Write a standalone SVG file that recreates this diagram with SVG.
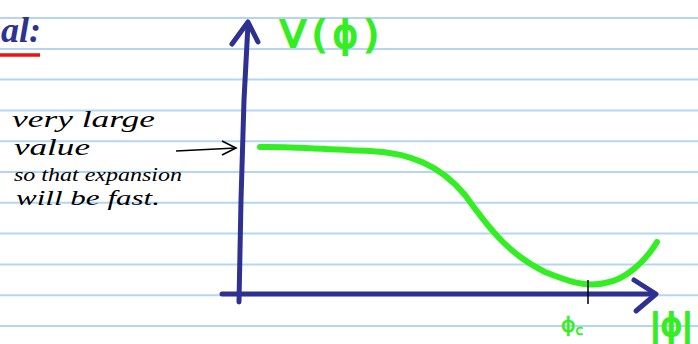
<svg xmlns="http://www.w3.org/2000/svg" width="698" height="344" viewBox="0 0 698 344">
<defs>
<style>
.rule{stroke:#b4d6f4;stroke-width:2}
.axis{stroke:#2e3192;stroke-width:5;fill:none;stroke-linecap:round;stroke-linejoin:round}
.green{fill:#33ee22;font-family:"DejaVu Sans",sans-serif;stroke:#33ee22}
.note{fill:#000;font-family:"Liberation Serif",serif;font-style:italic}
</style>
</defs>
<rect width="698" height="344" fill="#fff"/>
<g id="rules">
<line class="rule" x1="0" y1="18" x2="698" y2="18"/>
<line class="rule" x1="0" y1="49" x2="698" y2="49"/>
<line class="rule" x1="0" y1="79.6" x2="698" y2="79.6"/>
<line class="rule" x1="0" y1="110.4" x2="698" y2="110.4"/>
<line class="rule" x1="0" y1="141.2" x2="698" y2="141.2"/>
<line class="rule" x1="0" y1="172" x2="698" y2="172"/>
<line class="rule" x1="0" y1="202.8" x2="698" y2="202.8"/>
<line class="rule" x1="0" y1="233.6" x2="698" y2="233.6"/>
<line class="rule" x1="0" y1="264.4" x2="698" y2="264.4"/>
<line class="rule" x1="0" y1="295.2" x2="698" y2="295.2"/>
<line class="rule" x1="0" y1="326" x2="698" y2="326"/>
</g>
<g id="heading">
<text x="1" y="42" font-family="Liberation Serif,serif" font-style="italic" font-weight="bold" font-size="36" fill="#2e3192">al:</text>
<line x1="0" y1="55" x2="40" y2="55" stroke="#ee1111" stroke-width="3.5"/>
</g>
<g id="connectors">
<path class="axis" d="M239 302 L241 200 L244 100 L248 24"/>
<path class="axis" d="M232 44 L248 22 L258 42"/>
<path class="axis" d="M222 294 L400 294 L655 294"/>
<path class="axis" d="M634 280 L656 294 L636 311"/>
<path d="M176 151 L236 148" stroke="#000" stroke-width="1.6" fill="none"/>
<path d="M222 141 L236 148 L222 155" stroke="#000" stroke-width="1.6" fill="none"/>
</g>
<g id="curve">
<path d="M260 147 C290 146 330 150 370 151 C410 153 440 165 465 195 C490 230 510 255 545 272 C565 280 585 288 605 283 C625 280 645 262 657 242" stroke="#33ee22" stroke-width="6" fill="none" stroke-linecap="round"/>
<line x1="588" y1="280" x2="588" y2="304" stroke="#000" stroke-width="1.5"/>
</g>
<g id="labels">
<text class="green" x="280" y="47" font-size="38" letter-spacing="6" stroke-width="2">V(ϕ)</text>
<text class="green" x="561" y="332" font-size="22" stroke-width="0.6">ϕ<tspan font-size="14" dy="3">c</tspan></text>
<text class="green" x="650" y="336" font-size="32" stroke-width="2">|ϕ|</text>
</g>
<g id="note">
<text class="note" x="12" y="127" font-size="24" textLength="143" lengthAdjust="spacingAndGlyphs">very large</text>
<text class="note" x="14" y="155" font-size="23" textLength="76" lengthAdjust="spacingAndGlyphs">value</text>
<text class="note" x="14" y="181" font-size="19" textLength="168" lengthAdjust="spacingAndGlyphs">so that expansion</text>
<text class="note" x="16" y="205" font-size="21" textLength="144" lengthAdjust="spacingAndGlyphs">will be fast.</text>
</g>
</svg>
